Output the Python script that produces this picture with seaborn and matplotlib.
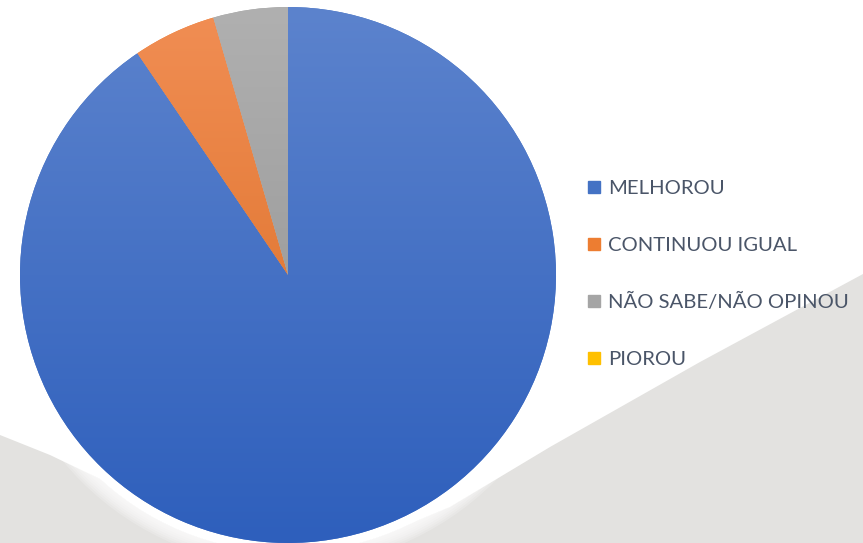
import numpy as np
import matplotlib
matplotlib.use("Agg")
import matplotlib.pyplot as plt
import seaborn as sns
from matplotlib.lines import Line2D
from matplotlib.patches import Polygon, Circle
from matplotlib.colors import to_rgba

# ---- data ----
categories = ["MELHOROU", "CONTINUOU IGUAL", "NÃO SABE/NÃO OPINOU", "PIOROU"]
values = [90.5, 5.0, 4.5, 0.0]
base_colors = ["#4472C4", "#ED7D31", "#A5A5A5", "#FFC000"]
top_colors = ["#5C83CD", "#F18E54", "#B0B0B0", "#FFCB33"]
bottom_colors = ["#2E5FBC", "#D7691E", "#8E8E8E", "#E0A800"]

sns.set_theme(style="white")
plt.rcParams["font.family"] = ["Lato", "DejaVu Sans"]

W, H = 863, 543
fig = plt.figure(figsize=(W / 100, H / 100), dpi=100)
fig.patch.set_facecolor("white")

def px(x, y):
    return (x / W, 1 - y / H)

# decorative grey background wave
wave = [(0, 435), (50, 455), (100, 479), (150, 510), (200, 531), (250, 540),
        (300, 542), (350, 539), (400, 528), (450, 507), (500, 477), (550, 447),
        (700, 362), (863, 274), (863, 543), (0, 543)]
fig.add_artist(Polygon([px(*p) for p in wave], closed=True,
                       transform=fig.transFigure, facecolor="#E3E2E0",
                       edgecolor="none", zorder=-5))

# pie axes: center (288,275), radius 268 px
r_px = 268
cx, cy = 288, 275
ax = fig.add_axes([(cx - r_px) / W, (H - cy - r_px) / H, 2 * r_px / W, 2 * r_px / H])
ax.set_facecolor("none")

# soft white halo
ax.add_patch(Circle((0, 0), 1.035, facecolor="white", edgecolor="none",
                    zorder=0, clip_on=False))
for r in np.linspace(1.035, 1.09, 8):
    ax.add_patch(Circle((0, 0), r, facecolor="white", edgecolor="none",
                        alpha=0.2, zorder=0, clip_on=False))

wedges, _ = ax.pie(values, colors=base_colors, startangle=90, counterclock=False,
                   radius=1.0, wedgeprops=dict(linewidth=0, zorder=1))
ax.set_xlim(-1, 1)
ax.set_ylim(-1, 1)
ax.set_aspect("equal")
ax.axis("off")

# vertical gradient fill of each wedge
for w, ct, cb in zip(wedges, top_colors, bottom_colors):
    t = np.linspace(0, 1, 256)[:, None]
    c0 = np.array(to_rgba(ct))
    c1 = np.array(to_rgba(cb))
    img = (c0[None, None, :] * (1 - t[..., None]) + c1[None, None, :] * t[..., None])
    im = ax.imshow(img, extent=(-1, 1, -1, 1), origin="upper", aspect="auto",
                   zorder=2, interpolation="bilinear")
    im.set_clip_path(w)

# legend
handles = [Line2D([0], [0], marker="s", linestyle="none", markersize=8,
                  markerfacecolor=c, markeredgecolor=c) for c in base_colors]
fig.legend(handles, categories, loc="center left",
           bbox_to_anchor=px(587, 274), frameon=False, fontsize=14.6,
           labelcolor="#4A5568", labelspacing=1.95, handlelength=0.72,
           handletextpad=0.3, borderpad=0, borderaxespad=0)

fig.savefig("out.png", dpi=100, facecolor="white")
